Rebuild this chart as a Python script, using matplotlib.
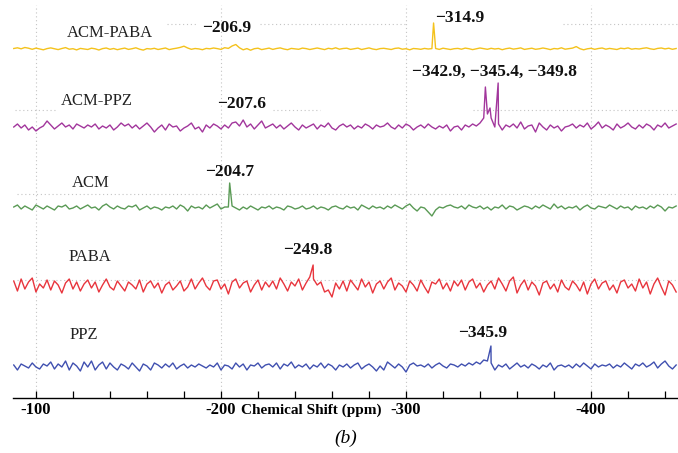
import numpy as np
import matplotlib.pyplot as plt
from matplotlib.ticker import MultipleLocator, FuncFormatter

# chemical shift grid (ppm) for the baseline traces
ppm = np.arange(-88, -447, -2)

# baseline noise (arbitrary intensity units)
acm_paba_noise = [
    0.5, 1.2, 0.2, 1.5, 0.8, -0.3, 0.9, 0.1, -0.8, 0.4,
    1.1, 0.2, -0.6, 0.5, 1.4, -0.2, 0.3, -0.9, 0.6, 0.0,
    -0.5, 0.8, 0.2, -1.0, 0.4, 1.0, -0.3, 0.5, -0.7, 0.2,
    0.9, -0.4, 0.3, 1.2, -0.2, -1.1, 0.4, 0.0, 0.7, -0.5,
    0.3, 1.0, -0.6, 0.2, 0.8, 1.6, 2.8, 1.0, -0.3, 0.5,
    0.1, -0.7, 0.6, 0.2, 1.0, 0.4, -0.4, 1.3, 0.6, 3.0,
    4.5, 1.2, -0.8, 0.4, -1.2, 0.3, 0.8, -0.6, 0.2, 0.9,
    -0.4, 0.5, 1.1, 0.0, -0.7, 0.6, 0.2, -0.3, 0.9, 0.4,
    -0.5, 0.3, 1.0, 0.2, -0.6, 0.7, 0.1, 1.2, -0.2, 0.5,
    0.8, -0.4, 0.2, 0.9, -0.5, 0.3, 1.1, 0.0, -0.6, 0.4,
    0.7, 0.1, -0.5, 0.6, 1.0, -0.2, 0.3, -0.8, 0.5, 0.2,
    -0.3, 0.6, 0.0, 0.4, 0.5, -0.4, 0.8, 0.1, -0.5, 0.3,
    0.6, -0.2, 0.9, 0.3, -0.6, 0.2, 1.0, 0.4, -0.3, 0.7,
    0.0, 0.5, -0.7, 0.3, 0.9, -0.1, 0.4, 1.1, -0.4, 0.2,
    0.8, -0.3, 0.2, 1.0, 0.3, -0.6, 0.5, 0.1, 1.2, -0.2,
    0.4, 0.9, 2.4, 0.3, -0.8, 0.2, 0.7, -0.3, 0.5, 1.0,
    -0.2, 0.6, 0.1, -0.5, 0.8, 0.3, 1.1, -0.2, 0.4, 0.0,
    0.7, 1.2, 0.2, -0.4, 0.6, 1.0, 0.1, 0.8, -0.3, 0.5,
]
acm_ppz_noise = [
    1, 4, 0, 3, -2, 1, -3, 0, 2, 7,
    3, -1, 2, 5, 1, 3, -1, 4, 2, 0,
    3, 1, 4, -1, 2, 0, 3, -2, 1, 5,
    2, 4, 0, 3, -1, 2, 5, 1, -4, 0,
    3, -2, 4, 1, 2, -3, 0, 2, 5, -1,
    1, -4, 3, 0, 4, 2, -1, 3, 0, 5,
    6, 2, 8, 1, 4, -1, 3, 7, 0, 2,
    4, 0, 3, -1, 2, 5, 1, -2, 3, 0,
    2, 4, -1, 3, 1, 5, 0, -2, 2, 4,
    1, 3, -1, 2, 0, 4, 2, -1, 3, 1,
    2, 5, 1, -1, 3, 0, 4, 2, -2, 1,
    3, 0, 4, 1, -1, 2, 0, 3, -3, 1,
    2, -2, 3, 1, 4, 2, 5, 10, 14, 10,
    1, 4, -2, 3, 1, 4, 0, 6, -1, 2,
    3, -4, 5, 1, -2, 3, 0, 2, -3, 1,
    2, 4, 0, 3, 1, 5, -1, 2, 6, 0,
    3, 1, -2, 4, 0, 2, 5, 1, -1, 3,
    0, 4, 2, -2, 3, 1, 5, 0, 2, 4,
]
acm_noise = [
    1, 3, -1, 2, 0, -2, 3, 1, -1, 2,
    0, -2, 2, 1, 3, -1, 0, 2, -1, 1,
    3, 0, 1, -2, 2, 4, 1, -1, 2, 0,
    -1, 2, 1, 3, -2, 0, 2, -1, 1, 0,
    -2, 1, 0, 2, -1, 3, 1, -3, 2, 0,
    1, -1, 3, 0, 2, 4, -1, 1, 1, 2,
    0, -2, 1, -1, 2, 0, -2, 1, 0, 2,
    -1, 1, 0, -2, 2, 1, -1, 0, 2, -1,
    0, 2, -1, 1, 0, -2, 1, 2, 0, -1,
    2, 0, 1, -2, 3, 1, -1, 2, 0, 1,
    -1, 2, 0, 3, 1, -1, 2, 4, 0, -3,
    1, 0, -4, -8, -2, 1, 0, 2, 3, 1,
    0, 2, -1, 3, 1, 0, 2, -1, 1, -2,
    1, 0, 3, -1, 2, 1, -2, 0, 2, 1,
    -1, 2, 0, 3, 1, -1, 4, 0, 2, -1,
    1, 0, 2, -2, 1, 3, 0, -1, 2, 1,
    0, 3, 1, -1, 2, 0, 1, -2, 2, 0,
    1, -1, 2, 0, 3, 1, -3, 1, 0, 2,
]
paba_noise = [
    6, -4, 8, -2, 5, 9, -5, 3, -1, 7,
    -3, 6, 2, -6, 4, 8, -2, 5, -4, 3,
    7, -1, 5, -5, 2, 8, 0, -3, 6, 1,
    -4, 5, 2, -2, 7, -5, 3, 6, -1, 4,
    -6, 2, 5, -3, 1, 6, -4, 0, 8, -2,
    4, 9, 1, -3, 6, 7, -2, 3, -7, 5,
    8, -1, 4, 6, -5, 2, 7, -3, 5, 0,
    6, -2, 9, 3, -4, 5, 1, 8, -3, 4,
    10, 8, 2, 5, -5, -3, -10, 4, -2, 6,
    -4, 7, 2, -3, 8, 0, 5, -6, 3, 6,
    -2, 5, 9, -3, 4, 1, -5, 6, 2, -4,
    7, 0, -6, 5, 3, 8, -2, 4, -4, 6,
    1, 7, -3, 5, 8, -1, 4, -5, 2, 6,
    -2, 9, 3, -4, 6, 10, -6, 2, 7, -3,
    5, 1, -8, 4, 6, -2, 3, -5, 7, 0,
    -3, 6, 2, -4, 5, -7, 3, 8, -2, 4,
    6, -3, 2, -6, 5, 7, -1, 3, -4, 8,
    -1, 5, -7, 3, 9, 0, -8, 6, 2, -5,
]
ppz_noise = [
    2, -3, 3, 1, -1, 4, 0, -2, 3, 1,
    5, -2, 3, 0, 6, -3, 4, 1, -4, 5,
    0, 6, -3, 2, 5, -2, 4, 0, -3, 3,
    1, -2, 4, 0, -4, 3, 1, -3, 4, 2,
    -1, 3, 0, 4, -2, 1, 3, -1, 2, 0,
    3, 1, -1, 2, 0, 4, -3, 2, 1, -2,
    4, 0, 3, -3, 2, 1, 4, -1, 2, 3,
    0, 4, -2, 3, 1, 5, -1, 2, 0, 3,
    -2, 2, 0, 4, -1, 3, 1, -3, 2, 0,
    3, -1, 2, 4, -2, 1, 3, 0, -4, 1,
    -3, 5, 2, -1, 3, 0, -5, 2, 4, 1,
    2, 0, 3, -1, 2, 4, 1, -1, 3, 2,
    0, 3, 1, 4, 2, 5, 3, 7, 6, 4,
    -3, 2, 0, 3, -2, 1, 4, 0, 2, -1,
    3, 1, -2, 2, 0, 4, -3, 1, 2, 0,
    2, -1, 3, 0, 4, 1, -2, 3, 0, 2,
    1, 3, -1, 2, 0, 4, 1, -2, 3, 1,
    4, 0, 2, 5, -1, 3, 6, 1, -2, 2,
]

# resonances (ppm) and their heights
acm_paba_peaks = [-314.9]
acm_paba_heights = [26]
acm_ppz_peaks = [-342.9, -345.4, -349.8]
acm_ppz_heights = [41, 20, 45]
acm_peaks = [-204.7]
acm_heights = [25]
paba_peaks = [-249.8]
paba_heights = [22]
ppz_peaks = [-345.9]
ppz_heights = [21]

names = ['ACM-PABA', 'ACM-PPZ', 'ACM', 'PABA', 'PPZ']
colors = ['#f4c21c', '#a2369c', '#5a9a55', '#e8353d', '#4050b0']
offsets = [349, 270, 190, 111, 31]

noises = [acm_paba_noise, acm_ppz_noise, acm_noise, paba_noise, ppz_noise]
peaks = [acm_paba_peaks, acm_ppz_peaks, acm_peaks, paba_peaks, ppz_peaks]
heights = [acm_paba_heights, acm_ppz_heights, acm_heights, paba_heights, ppz_heights]

plt.rcParams['font.family'] = ['Liberation Serif', 'DejaVu Serif']

fig = plt.figure(figsize=(6.78, 4.53), dpi=100)
ax = fig.add_axes([13 / 678, 55 / 453, 665 / 678, 398 / 453])

# dotted guide lines
grid_kw = dict(colors='#c4c4c4', linestyles=(0, (1, 2.5)), linewidths=0.8, zorder=0)
ax.vlines([-100, -200, -300, -400], 0, 393, **grid_kw)
ax.hlines([374] * 3, [-170.8, -221.1, -384.9], [-187.0, -300.5, -447], **grid_kw)
ax.hlines([288] * 3, [-88.6, -228.1, -336.2], [-110.3, -253.5, -447], **grid_kw)
ax.hlines(204, -89.7, -447, **grid_kw)
ax.hlines(118, -89.7, -447, **grid_kw)

for noise, pk, ht, col, off in zip(noises, peaks, heights, colors, offsets):
    x = np.concatenate([ppm, pk])
    y = np.concatenate([noise, ht])
    order = np.argsort(-x)
    ax.plot(x[order], off + y[order], color=col, lw=1.0)

# trace names
name_pos = [(-140, 365), (-133, 297), (-129.7, 215), (-129.2, 141), (-126, 63)]
for name, (xp, yp) in zip(names, name_pos):
    ax.text(xp, yp, name, ha='center', va='center', fontsize=12, color='#222222')


def fmt(v):
    return '\u2212' + f'{abs(v):.1f}'


# peak annotations
bold = dict(ha='center', va='center', fontsize=12.5, fontweight='bold', color='#111111')
ax.text(-203.2, 370, fmt(-206.9), **bold)
ax.text(-329.2, 380, fmt(acm_paba_peaks[0]), **bold)
ax.text(-347.6, 326, ', '.join(fmt(p) for p in acm_ppz_peaks), **bold)
ax.text(-211.4, 294, fmt(-207.6), **bold)
ax.text(-204.9, 226, fmt(acm_peaks[0]), **bold)
ax.text(-247.0, 148, fmt(paba_peaks[0]), **bold)
ax.text(-341.6, 65, fmt(ppz_peaks[0]), **bold)

ax.set_xlim(-87.6, -447)
ax.set_ylim(0, 398)
for s in ['top', 'right', 'left']:
    ax.spines[s].set_visible(False)
ax.spines['bottom'].set_linewidth(1.0)
ax.set_yticks([])

ax.xaxis.set_major_locator(MultipleLocator(100))
ax.xaxis.set_minor_locator(MultipleLocator(20))
ax.xaxis.set_major_formatter(FuncFormatter(lambda v, p: f'{int(v)}'))
ax.tick_params(axis='x', which='both', direction='in', length=5, width=0.9, pad=3)
for lab in ax.get_xticklabels():
    lab.set_fontweight('bold')
    lab.set_fontsize(12)

ax.text(-248.6, -12, 'Chemical Shift (ppm)', ha='center', va='center',
        fontsize=11, fontweight='bold', clip_on=False)
ax.text(-267.6, -40, '(b)', ha='center', va='center', fontsize=14,
        style='italic', clip_on=False)

fig.savefig('out.png', dpi=100)
